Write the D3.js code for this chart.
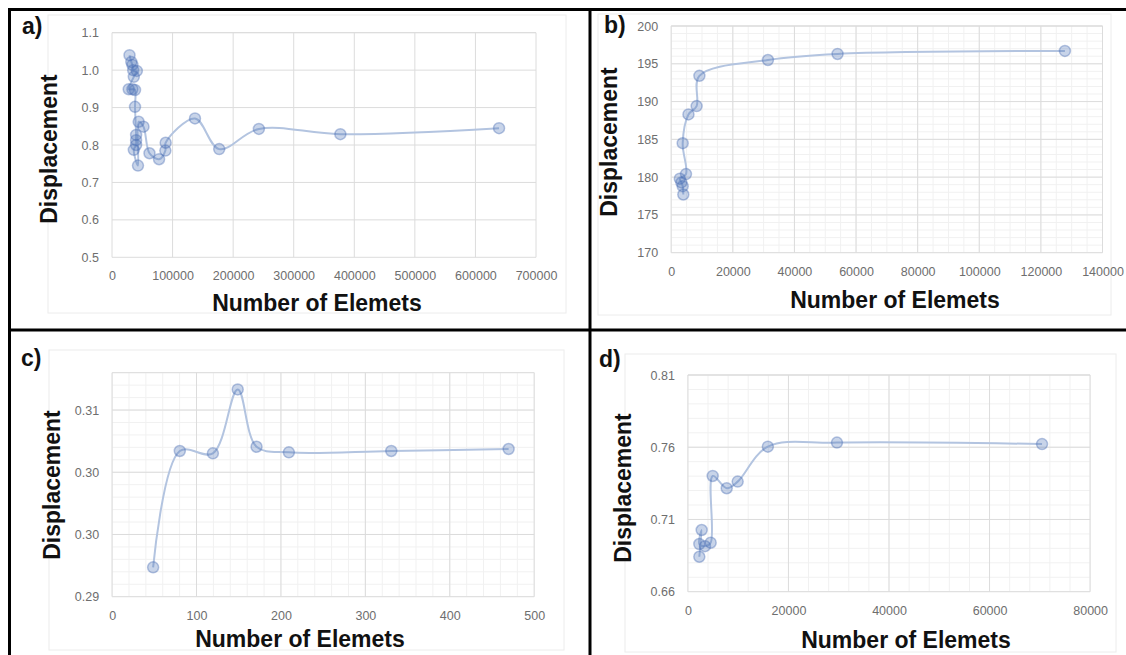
<!DOCTYPE html>
<html>
<head>
<meta charset="utf-8">
<script src="https://cdn.jsdelivr.net/npm/d3@7"></script>
<style>
  body { margin: 0; background: #fff; }
  svg { display: block; }
  .tick text { font-family: "Liberation Sans", Arial, sans-serif; font-size: 12.5px; fill: #6e6e6e; }
  .title { font-family: "Liberation Sans", Arial, sans-serif; font-weight: bold; font-size: 23px; fill: #111; }
</style>
</head>
<body>
<div id="vis"></div>
<script>
// data (x = number of elements, y = displacement)
const aX = [28900, 31900, 33700, 35000, 41000, 36000, 27600, 33700, 38000, 38000, 39800, 39800, 39800, 36000, 42900, 44000, 52000, 61900, 77700, 88100, 88600, 137000, 177000, 242500, 377000, 639000];
const aY = [1.040, 1.022, 1.014, 1.000, 0.998, 0.982, 0.949, 0.949, 0.947, 0.902, 0.827, 0.813, 0.800, 0.787, 0.745, 0.862, 0.849, 0.778, 0.762, 0.785, 0.806, 0.871, 0.789, 0.843, 0.829, 0.845];

const bX = [3930, 3730, 3300, 2800, 4800, 3730, 5600, 8250, 9150, 31400, 54000, 127800];
const bY = [177.7, 178.8, 179.3, 179.8, 180.4, 184.5, 188.3, 189.4, 193.4, 195.5, 196.3, 196.7];

const cX = [48.6, 80.2, 119.4, 148.8, 171.1, 209.4, 330.7, 469.7];
const cY = [0.29236, 0.30171, 0.30152, 0.30666, 0.30205, 0.30160, 0.30171, 0.30187];

const dX = [2270, 2740, 2270, 3400, 4530, 4930, 7720, 9900, 15900, 29650, 70440];
const dY = [0.6842, 0.7027, 0.6930, 0.6915, 0.6939, 0.7401, 0.7316, 0.7362, 0.7604, 0.7632, 0.7622];

// tick values and labels
const aXTicks = [0, 100000, 200000, 300000, 400000, 500000, 600000, 700000];
const aYTicks = [0.5, 0.6, 0.7, 0.8, 0.9, 1.0, 1.1];
const aYLabels = ["0.5", "0.6", "0.7", "0.8", "0.9", "1.0", "1.1"];
const bXTicks = [0, 20000, 40000, 60000, 80000, 100000, 120000, 140000];
const bYTicks = [170, 175, 180, 185, 190, 195, 200];
const cXTicks = [0, 100, 200, 300, 400, 500];
const cYTicks = [0.29, 0.295, 0.30, 0.305];
const cYLabels = ["0.29", "0.30", "0.30", "0.31"];
const dXTicks = [0, 20000, 40000, 60000, 80000];
const dYTicks = [0.66, 0.71, 0.76, 0.81];
const dYLabels = ["0.66", "0.71", "0.76", "0.81"];

const W = 1126, H = 655;

const svg = d3.select("#vis").append("svg")
  .attr("width", W)
  .attr("height", H);

svg.append("rect").attr("width", W).attr("height", H).attr("fill", "#fff");

// one panel per chart
const panels = [
  { label: "a)", xs: aX, ys: aY, xTicks: aXTicks, yTicks: aYTicks, yLabels: aYLabels,
    xDom: [0, 700000], yDom: [0.5, 1.1], left: 112, right: 536, top: 32.7, bottom: 257.3,
    xMinor: null, yMinor: null,
    area: [48, 15, 566, 313], lab: [22, 34], yT: [49, 149], xT: [317, 311] },
  { label: "b)", xs: bX, ys: bY, xTicks: bXTicks, yTicks: bYTicks, yLabels: bYTicks.map(String),
    xDom: [0, 140000], yDom: [170, 200], left: 671.2, right: 1102.5, top: 26, bottom: 252.7,
    xMinor: 5000, yMinor: 1,
    area: [598, 14, 1111, 315], lab: [604, 33], yT: [609, 142], xT: [895, 308] },
  { label: "c)", xs: cX, ys: cY, xTicks: cXTicks, yTicks: cYTicks, yLabels: cYLabels,
    xDom: [0, 500], yDom: [0.29, 0.308], left: 112.1, right: 534.2, top: 372.7, bottom: 596.7,
    xMinor: 20, yMinor: 0.001,
    area: [49, 350, 564, 650], lab: [21, 366], yT: [51.5, 485], xT: [300, 647] },
  { label: "d)", xs: dX, ys: dY, xTicks: dXTicks, yTicks: dYTicks, yLabels: dYLabels,
    xDom: [0, 80000], yDom: [0.66, 0.81], left: 687.9, right: 1090.1, top: 375, bottom: 591.7,
    xMinor: 4000, yMinor: 0.01,
    area: [625, 354, 1116, 652], lab: [599, 367], yT: [623, 488], xT: [906, 648] }
];

panels.forEach(p => {
  const g = svg.append("g");

  const x = d3.scaleLinear().domain(p.xDom).range([p.left, p.right]);
  const y = d3.scaleLinear().domain(p.yDom).range([p.bottom, p.top]);

  // chart area outline
  g.append("rect")
    .attr("x", p.area[0]).attr("y", p.area[1])
    .attr("width", p.area[2] - p.area[0]).attr("height", p.area[3] - p.area[1])
    .attr("fill", "none").attr("stroke", "#ececec");

  // minor grid
  if (p.xMinor) {
    g.append("g").selectAll("line")
      .data(d3.range(p.xDom[0], p.xDom[1] + 1e-9, p.xMinor))
      .join("line")
        .attr("x1", d => x(d)).attr("x2", d => x(d))
        .attr("y1", p.top).attr("y2", p.bottom)
        .attr("stroke", "#f1f1f1");
    g.append("g").selectAll("line")
      .data(d3.range(p.yDom[0], p.yDom[1] + 1e-9, p.yMinor))
      .join("line")
        .attr("y1", d => y(d)).attr("y2", d => y(d))
        .attr("x1", p.left).attr("x2", p.right)
        .attr("stroke", "#f1f1f1");
  }

  // major grid
  g.append("g").selectAll("line")
    .data(p.xTicks)
    .join("line")
      .attr("x1", d => x(d)).attr("x2", d => x(d))
      .attr("y1", p.top).attr("y2", p.bottom)
      .attr("stroke", "#dcdcdc");
  g.append("g").selectAll("line")
    .data(p.yTicks.concat([p.yDom[1]]))
    .join("line")
      .attr("y1", d => y(d)).attr("y2", d => y(d))
      .attr("x1", p.left).attr("x2", p.right)
      .attr("stroke", "#dcdcdc");

  // axes (labels only)
  g.append("g")
    .attr("transform", `translate(0,${p.bottom})`)
    .call(d3.axisBottom(x).tickValues(p.xTicks).tickFormat(d3.format("d")).tickSize(0).tickPadding(14))
    .call(a => a.select(".domain").remove());
  g.append("g")
    .attr("transform", `translate(${p.left},0)`)
    .call(d3.axisLeft(y).tickValues(p.yTicks).tickFormat((d, i) => p.yLabels[i]).tickSize(0).tickPadding(13))
    .call(a => a.select(".domain").remove());

  // smoothed line then markers
  const pts = p.xs.map((v, i) => [v, p.ys[i]]);
  const line = d3.line()
    .x(d => x(d[0]))
    .y(d => y(d[1]))
    .curve(d3.curveCatmullRom.alpha(0.5));

  g.append("path")
    .datum(pts)
    .attr("d", line)
    .attr("fill", "none")
    .attr("stroke", "#b3c4e0")
    .attr("stroke-width", 2);

  g.append("g").selectAll("circle")
    .data(pts)
    .join("circle")
      .attr("cx", d => x(d[0]))
      .attr("cy", d => y(d[1]))
      .attr("r", 5.5)
      .attr("fill", "#4a6fb5")
      .attr("fill-opacity", 0.3)
      .attr("stroke", "#4a6fb5")
      .attr("stroke-opacity", 0.4)
      .attr("stroke-width", 1.5);

  // titles
  g.append("text")
    .attr("class", "title")
    .attr("transform", `translate(${p.yT[0]},${p.yT[1]}) rotate(-90)`)
    .attr("text-anchor", "middle")
    .attr("dy", "0.35em")
    .text("Displacement");
  g.append("text")
    .attr("class", "title")
    .attr("x", p.xT[0]).attr("y", p.xT[1])
    .attr("text-anchor", "middle")
    .text("Number of Elemets");
  g.append("text")
    .attr("class", "title")
    .attr("x", p.lab[0]).attr("y", p.lab[1])
    .style("font-size", "23px")
    .text(p.label);
});

// black frame round the four panels
const frame = svg.append("g").attr("stroke", "#000").attr("stroke-width", 3).attr("fill", "none");
frame.append("line").attr("x1", 9.5).attr("x2", W).attr("y1", 9.5).attr("y2", 9.5);
frame.append("line").attr("x1", 9.5).attr("x2", 9.5).attr("y1", 8).attr("y2", H);
frame.append("line").attr("x1", 590).attr("x2", 590).attr("y1", 8).attr("y2", H);
frame.append("line").attr("x1", 8).attr("x2", W).attr("y1", 330).attr("y2", 330);
</script>
</body>
</html>
